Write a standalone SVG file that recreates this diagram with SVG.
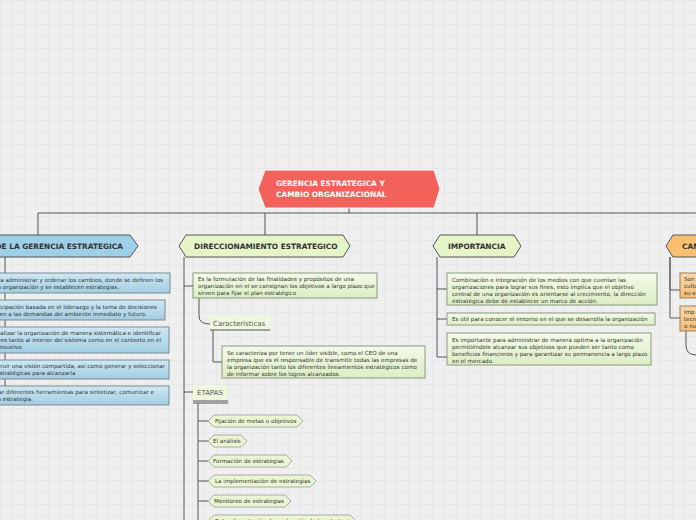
<svg xmlns="http://www.w3.org/2000/svg" width="696" height="520" viewBox="0 0 696 520">
<defs>
<pattern id="grid" width="12" height="12" patternUnits="userSpaceOnUse"><path d="M12 0H0V12" fill="none" stroke="#e2e2e2" stroke-width="1"/></pattern>
<linearGradient id="gb" x1="0" y1="0" x2="0" y2="1"><stop offset="0" stop-color="#cfe9f4"/><stop offset="1" stop-color="#a2cde2"/></linearGradient>
<linearGradient id="gg" x1="0" y1="0" x2="0" y2="1"><stop offset="0" stop-color="#f4fbe8"/><stop offset="1" stop-color="#dcedc4"/></linearGradient>
<linearGradient id="go" x1="0" y1="0" x2="0" y2="1"><stop offset="0" stop-color="#f9d9a8"/><stop offset="1" stop-color="#f2bd78"/></linearGradient>
</defs>
<style>
.t{font-family:Verdana,"DejaVu Sans",sans-serif;font-size:5.6px;fill:#333}
.h{font-family:Verdana,"DejaVu Sans",sans-serif;font-size:7.4px;font-weight:bold;fill:#333}
.c{stroke:#555;stroke-width:1;fill:none}
.bb{fill:url(#gb);stroke:#7a8a90;stroke-width:1}
.bg{fill:url(#gg);stroke:#8a9a80;stroke-width:1}
.bo{fill:url(#go);stroke:#998060;stroke-width:1}
</style>
<rect width="696" height="520" fill="#efefef"/>
<rect width="696" height="520" fill="url(#grid)"/>
<g id="connectors">
<path class="c" d="M38 213H696M349 208V213M38 213V235M265 213V235M477 213V235M697 213V235"/>
<path class="c" d="M5 257V395"/>
<path class="c" d="M184 257V520M184 286H193M184 392H193"/>
<path class="c" d="M199 298V316Q199 324 210 324M213 330V362H222"/>
<path class="c" d="M198 403V520M198 421H208M198 441H208M198 461H208M198 481H208M198 501H208"/>
<path class="c" d="M437 257V357H447M437 289H447M437 319H447"/>
<path class="c" d="M670 257V290H680M670 257V318H680M686 331V345Q686 355 696 355"/>
</g>
<g id="central"><polygon points="265,170 434,170 440,189 434,208 265,208 258,189" fill="#f2625a" stroke="#fff" stroke-width="1"/>
<text class="h" style="fill:#fff" x="276" y="186">GERENCIA ESTRATEGICA Y</text>
<text class="h" style="fill:#fff" x="276" y="197">CAMBIO ORGANIZACIONAL</text></g>
<g id="objetivos"><polygon points="-10,235 130,235 138,246 130,257 -10,257" fill="#9dcfe8" stroke="#555"/>
<text class="h" x="123" y="249" text-anchor="end">OBJETIVOS DE LA GERENCIA ESTRATEGICA</text>
<rect class="bb" x="-10" y="273" width="180" height="20"/><text class="t" x="163" y="282" text-anchor="end">Para administrar y ordenar los cambios, donde se definen los</text><text class="t" x="-4" y="289">la organización y se establecen estrategias.</text>
<rect class="bb" x="-10" y="300" width="175" height="20"/><text class="t" x="157" y="309" text-anchor="end">Anticipación basada en el liderazgo y la toma de decisiones</text><text class="t" x="-4" y="316">den a las demandas del ambiente inmediato y futuro.</text>
<rect class="bb" x="-10" y="327" width="179" height="26"/><text class="t" x="161" y="335" text-anchor="end">Visualizar la organización de manera sistemática e identificar</text><text class="t" x="161" y="342" text-anchor="end">claves tanto al interior del sistema como en el contexto en el</text><text class="t" x="-4" y="349">envuelve.</text>
<rect class="bb" x="-10" y="360" width="179" height="19"/><text class="t" x="165" y="368" text-anchor="end">Construir una visión compartida, así como generar y seleccionar</text><text class="t" x="-4" y="375">estratégicas para alcanzarla</text>
<rect class="bb" x="-10" y="386" width="179" height="19"/><text class="t" x="154" y="394" text-anchor="end">Utilizar diferentes herramientas para sintetizar, comunicar e</text><text class="t" x="-4" y="401">la estrategia.</text></g>
<g id="direccionamiento"><polygon points="186,235 343,235 350,246 343,257 186,257 179,246" fill="#e6f5c8" stroke="#555"/>
<text class="h" x="194" y="249">DIRECCIONAMIENTO ESTRATEGICO</text>
<rect class="bg" x="193" y="273" width="184" height="25"/><text class="t" x="198" y="281">Es la formulación de las finalidades y propósitos de una</text><text class="t" x="198" y="288">organización en el se consignan los objetivos a largo plazo que</text><text class="t" x="198" y="295">sirven para fijar el plan estratégico</text>
<rect x="210" y="316" width="60" height="14" fill="#eef8dc"/><path class="c" d="M210 330H270"/><text x="213" y="326" style="font-family:Verdana,'DejaVu Sans',sans-serif;font-size:7px;fill:#555">Características</text>
<rect class="bg" x="222" y="346" width="203" height="32"/><text class="t" x="227" y="355">Se caracteriza por tener un líder visible, como el CEO de una</text><text class="t" x="227" y="362">empresa que es el responsable de transmitir todas las empresas de</text><text class="t" x="227" y="369">la organización tanto los diferentes lineamientos estratégicos como</text><text class="t" x="227" y="376">de informar sobre los logros alcanzados.</text>
<rect x="193" y="385" width="35" height="14" fill="#eef8dc"/><path class="c" d="M193 401H228M193 403H228"/><text x="197" y="395" style="font-family:Verdana,'DejaVu Sans',sans-serif;font-size:7px;fill:#555">ETAPAS</text></g>
<g id="etapas" fill="#eaf6d2" stroke="#999" stroke-width="0.8">
<polygon points="214,415 297,415 303,421 297,427 214,427 208,421"/><text class="t" x="215" y="423" stroke="none">Fijación de metas u objetivos</text>
<polygon points="214,435 241,435 247,441 241,447 214,447 208,441"/><text class="t" x="213" y="443" stroke="none">El análisis</text>
<polygon points="214,455 286,455 292,461 286,467 214,467 208,461"/><text class="t" x="213" y="463" stroke="none">Formación de estrategias</text>
<polygon points="214,475 310,475 316,481 310,487 214,487 208,481"/><text class="t" x="215" y="483" stroke="none">La implementación de estrategias</text>
<polygon points="214,495 285,495 291,501 285,507 214,507 208,501"/><text class="t" x="214" y="503" stroke="none">Monitoreo de estrategias</text>
<polygon points="214,515 350,515 356,521 350,527 214,527 208,521"/><text class="t" x="215" y="523" stroke="none">Retroalimentación de evaluación de la estrategia</text></g>
<g id="importancia"><polygon points="440,235 514,235 521,246 514,257 440,257 433,246" fill="#e6f5c8" stroke="#555"/>
<text class="h" x="448" y="249">IMPORTANCIA</text>
<rect class="bg" x="447" y="273" width="210" height="32"/><text class="t" x="452" y="282">Combinación e integración de los medios con que cuentan las</text><text class="t" x="452" y="289">organizaciones  para lograr sus fines, esto implica que el objetivo</text><text class="t" x="452" y="296">central de una organización es orientarse al crecimiento, la dirección</text><text class="t" x="452" y="303">estratégica debe de establecer un marco de acción.</text>
<rect class="bg" x="447" y="313" width="208" height="12"/><text class="t" x="452" y="321">Es útil para conocer el entorno en el que se desarrolla la organización</text>
<rect class="bg" x="447" y="333" width="204" height="32"/><text class="t" x="452" y="342">Es importante para administrar de manera optima a la organización</text><text class="t" x="452" y="349">permitiéndole alcanzar sus objetivos que pueden ser tanto como</text><text class="t" x="452" y="356">beneficios financieros y para garantizar su permanencia a largo plazo</text><text class="t" x="452" y="363">en el mercado.</text></g>
<g id="cambio"><polygon points="673,235 700,235 700,257 673,257 666,246" fill="#f8bf70" stroke="#555"/>
<text class="h" x="682" y="249">CAMBIO</text>
<rect class="bo" x="680" y="273" width="30" height="25"/><text class="t" x="684" y="281">Son</text><text class="t" x="684" y="288">cultu</text><text class="t" x="684" y="295">su e</text>
<rect class="bo" x="680" y="306" width="30" height="25"/><text class="t" x="684" y="314">Imp</text><text class="t" x="684" y="321">tecn</text><text class="t" x="684" y="328">o nu</text></g>
</svg>
